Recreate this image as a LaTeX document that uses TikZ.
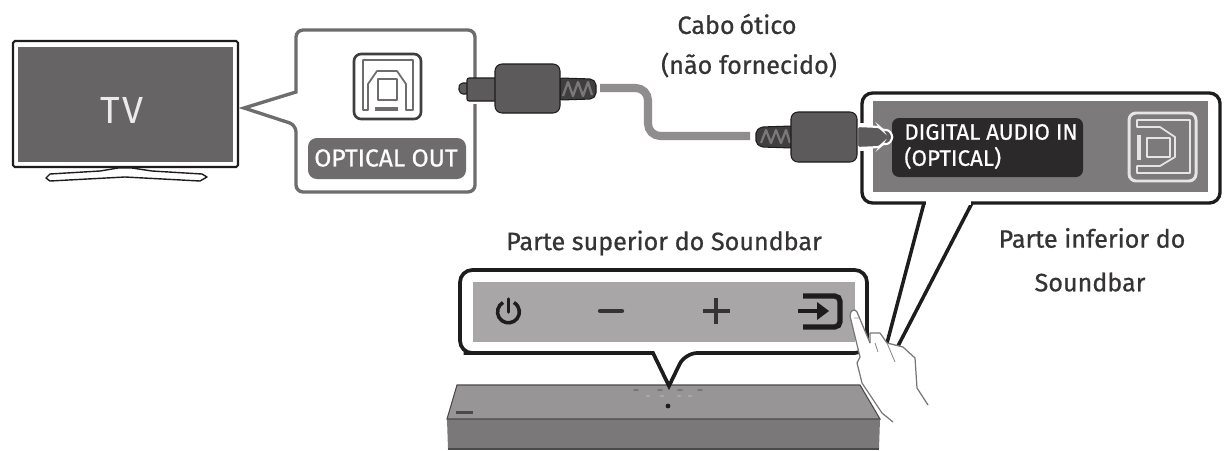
\documentclass[tikz,border=0pt]{standalone}
\usepackage{fontspec}
\setmainfont{Fira Sans}
\newfontfamily\heavyface[FakeBold=0.7]{Fira Sans}
\definecolor{screen}{HTML}{666464}
\definecolor{calloutgrey}{HTML}{6E6C6C}
\definecolor{plugdark}{HTML}{5C5A5A}
\definecolor{bootdark}{HTML}{403E3E}
\definecolor{zigzag}{HTML}{7A7878}
\definecolor{cablegrey}{HTML}{8F8D8D}
\definecolor{panelmid}{HTML}{7C7A7A}
\definecolor{panellight}{HTML}{A9A6A7}
\definecolor{labelblack}{HTML}{2B2929}
\definecolor{inkblack}{HTML}{1E1C1C}
\definecolor{bartop}{HTML}{979595}
\definecolor{barfront}{HTML}{7A7878}
\tikzset{
  x=0.02cm,y=-0.02cm,
  caption/.style={font=\heavyface\fontsize{14.3}{16}\selectfont,text=inkblack!90,inner sep=0pt},
  tag/.style={font=\heavyface\fontsize{12.7}{15}\selectfont,text=white,inner sep=0pt,align=left},
  plugline/.style={draw=inkblack,line width=0.6pt,fill=plugdark,rounded corners=1.2pt},
  bootzig/.style={draw=zigzag,line width=1.3pt,line join=round},
  portline/.style={line width=1pt,line join=round},
}
\begin{document}
\begin{tikzpicture}
\useasboundingbox (0,0) rectangle (1226,450);
\fill[white] (0,0) rectangle (1226,450);

% television
\draw[inkblack,line width=1.2pt,rounded corners=1pt,fill=white] (13,41) rectangle (238,167);
\fill[screen] (18,47) rectangle (233,162);
\node[font=\fontsize{21.5}{24}\selectfont,text=white!92!black,inner sep=0pt] (tv) at (122,110) {T\hspace{1.5pt}V};
\draw[inkblack,line width=0.8pt,fill=white,line join=round]
  (118,168) -- (100,171) -- (50,174) -- (46,178) -- (50,181) -- (125,177) -- (200,181) -- (207,177) -- (202,174) -- (152,171) -- (132,168) -- cycle;

% optical out callout
\draw[calloutgrey,line width=1.9pt,rounded corners=4pt,fill=white,line join=miter]
  (296,92) -- (296,30) -- (475,30) -- (475,192) -- (296,192) -- (296,125) [sharp corners] -- (244,108) -- cycle;
\draw[inkblack!85,line width=1.5pt,rounded corners=4pt] (354,54) rectangle (421,119);
\draw[calloutgrey,portline]
  (363,110) -- (363,60) -- (413,60) -- (413,110) -- (406,110) -- (406,84) -- (397,71) -- (377,71) -- (368,84) -- (368,110) -- cycle;
\draw[calloutgrey,portline] (378,79) rectangle (397,100);
\fill[calloutgrey] (375,107) rectangle (398,111);
\fill[calloutgrey,rounded corners=5pt] (308,138) rectangle (466,179);
\node[tag,font=\heavyface\fontsize{14}{16}\selectfont] (opticalout) at (386,158) {OPTICAL OUT};

% digital audio in callout
\draw[inkblack,line width=1.9pt,rounded corners=6pt,fill=white] (862,93) rectangle (1220,203);
\fill[panelmid] (873,101) rectangle (1208,192);
\fill[labelblack,rounded corners=4pt] (892,118) rectangle (1083,177);
\node[tag,anchor=west] (digitalin) at (904,132) {DIGITAL AUDIO IN};
\node[tag,anchor=west] (digitaltwo) at (904,158) {(OPTICAL)};
\draw[white!90!black,line width=1.7pt,rounded corners=4pt,fill=panelmid] (1129,113) rectangle (1196,181);
\draw[white!90!black,portline]
  (1137,120) -- (1190,120) -- (1190,173) -- (1137,173) -- (1137,166) -- (1160,166) -- (1175,157) -- (1175,137) -- (1160,127) -- (1137,127) -- cycle;
\draw[white!90!black,portline] (1147,138) rectangle (1170,157);
\fill[white!90!black] (1137,135) rectangle (1141,160);

% white gaps where the cable plugs cross the callouts
\fill[white] (470,80) rectangle (480,104);
\fill[white] (856,123) rectangle (873,151);

% optical cable
\coordinate (cableA) at (600,88);
\coordinate (cableB) at (750,136);
\draw[cablegrey,line width=4.6pt,rounded corners=7pt] (cableA) -- (648,88) -- (648,136) -- (cableB);

% left plug
\draw[plugline] (468,83) -- (461,83) -- (458,88) -- (461,94) -- (468,94) -- cycle;
\draw[plugline] (467,78) rectangle (497,101);
\draw[plugline,fill=bootdark] (560,78) -- (592,79) -- (596,83) -- (596,95) -- (592,99) -- (560,100) -- cycle;
\draw[bootzig] (563,96) -- (568,82) -- (573,96) -- (578,82) -- (583,96) -- (588,82) -- (592,95);
\draw[plugline,rounded corners=4pt] (495,64) rectangle (560,113);

% right plug
\draw[plugline,fill=bootdark] (792,126) -- (761,127) -- (756,131) -- (756,143) -- (761,147) -- (792,148) -- cycle;
\draw[bootzig] (761,143) -- (766,130) -- (771,143) -- (776,130) -- (781,143) -- (786,130) -- (790,143);
\draw[draw=white,line width=1.2pt,fill=plugdark,rounded corners=1.5pt]
  (857,126) -- (880,127) -- (882,130) -- (889,130) -- (893,137) -- (889,144) -- (882,144) -- (880,147) -- (857,148) -- cycle;
\draw[plugline,rounded corners=4pt] (791,112) rectangle (857,162);

% captions
\node[caption] (cabo) at (737,24) {Cabo\hspace{-1pt} ótico};
\node[caption] (naoforn) at (749,65) {(não fornecido)};
\node[caption] (superior) at (664,243) {Parte superior do Soundbar};
\node[caption] (inferior) at (1092,238) {Parte inferior do};
\node[caption] (soundbar) at (1090,282) {Soundbar};

% soundbar body
\fill[bartop] (457,385) -- (860,385) -- (880,419) -- (447,419) -- cycle;
\fill[barfront] (447,419) -- (880,419) -- (879,449) -- (448,449) -- cycle;
\draw[inkblack!80,line width=0.6pt] (457,385) -- (860,385) -- (880,419) -- (447,419) -- cycle;
\draw[inkblack!80,line width=0.8pt] (448,449) -- (879,449);
\fill[inkblack!80] (456,411) rectangle (473,414);
\foreach \px/\py in {636/390,660/390,680/390,700/390}
  \fill[inkblack!60] (\px,\py) ellipse (2.8 and 1.1);
\foreach \px/\py in {648/396,662/396,679/396,690/396}
  \fill[inkblack!35] (\px,\py) ellipse (2.2 and 0.8);
\fill[inkblack] (668,406) circle (2.4);

% top panel callout
\draw[inkblack,line width=2.1pt,rounded corners=7pt,fill=white]
  (653,353) -- (476,353) -- (460,353) -- (460,270) -- (867,270) -- (867,353) -- (685,353) [sharp corners] -- (669,386) -- cycle;
\fill[panellight] (473,282) rectangle (855,342);
% power key
\draw[inkblack,line width=2pt] (503,302.5) arc[start angle=120,end angle=420,radius=6.2pt];
\draw[inkblack,line width=2pt,line cap=round] (508.5,299) -- (508.5,312);
% minus key
\draw[inkblack!90,line width=2.4pt,line cap=round] (600,311) -- (622,311);
% plus key
\draw[inkblack!90,line width=2.2pt] (703,311) -- (730,311) (716,298) -- (716,324);
% input key
\draw[inkblack,line width=3pt,rounded corners=3pt] (803,296) -- (840,296) -- (840,327) -- (803,327);
\fill[panellight] (796,303) rectangle (804,320);
\draw[inkblack,line width=2.6pt] (798,311) -- (820,311);
\fill[inkblack] (817,302) -- (829,311) -- (817,320) -- cycle;

% leader lines of the digital audio callout
\coordinate (leadA) at (887,343);
\coordinate (leadB) at (898,346);
\draw[inkblack,line width=2pt] (924,203) -- (leadA);
\draw[inkblack,line width=2pt] (972,203) -- (leadB);
\fill[white] (925.5,200) -- (970.5,200) -- (970.5,205) -- (925.5,205) -- cycle;

% hand pressing the input key
\fill[white] (850,316) .. controls (850,310) and (855,308) .. (857,312)
  -- (870,343) -- (870,333) -- (880,333) -- (887,343) -- (903,347) -- (915,358) -- (917,388) -- (928,405)
  -- (893,422) -- (882,413) -- (862,383) -- (857,363) -- (860,357) -- cycle;
\draw[inkblack!60,line width=0.7pt,line join=round]
  (893,422) -- (882,413) -- (862,383) -- (857,363) -- (860,357) -- (850,316)
  .. controls (850,310) and (855,308) .. (857,312) -- (870,343);
\draw[inkblack!60,line width=0.7pt,line join=round]
  (870,343) -- (870,333) -- (880,333) -- (887,343) -- (903,347) -- (915,358) -- (917,388) -- (928,405);
\draw[inkblack!50,line width=0.5pt] (887,343) -- (895,362) (875,343) -- (878,352) (854,318) -- (859,318);
\end{tikzpicture}
\end{document}
